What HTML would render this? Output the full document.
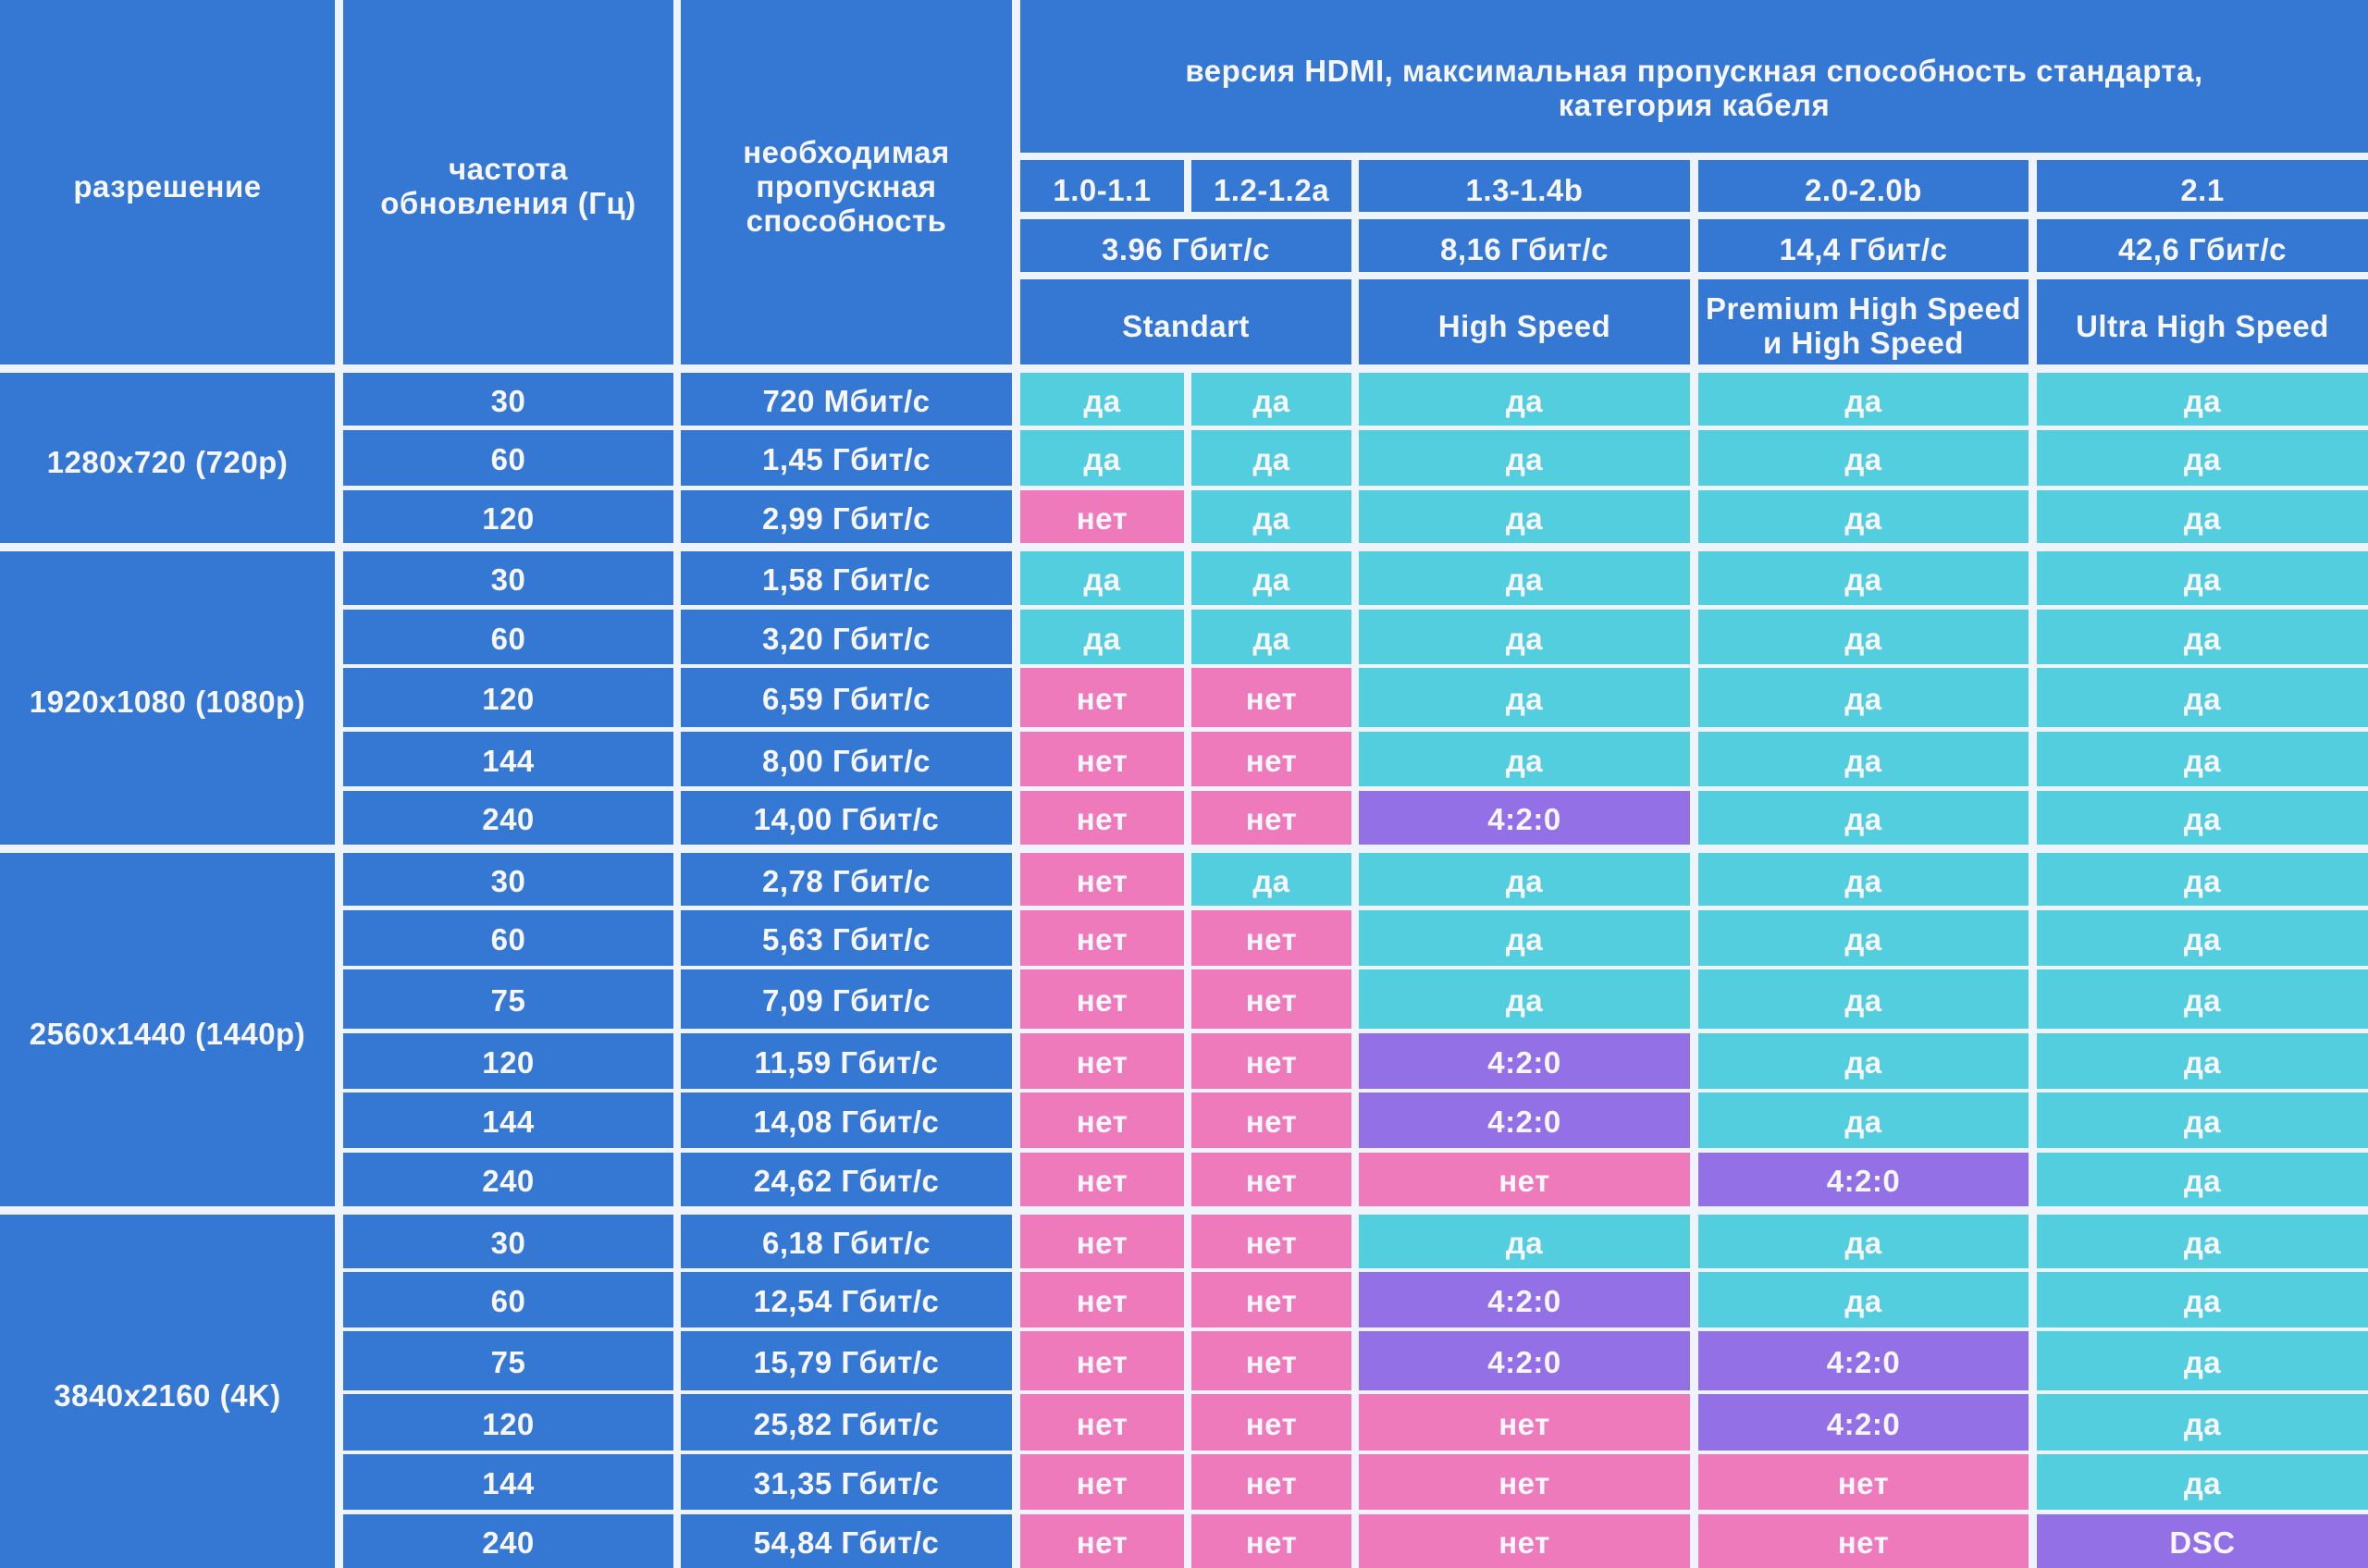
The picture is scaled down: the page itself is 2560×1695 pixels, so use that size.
<!DOCTYPE html>
<html><head><meta charset="utf-8"><style>
body{margin:0;width:2560px;height:1695px;background:#eef3fc;position:relative;overflow:hidden;font-family:"Liberation Sans","DejaVu Sans",sans-serif;}
div{position:absolute;display:flex;align-items:center;justify-content:center;text-align:center;color:#f6f6fb;font-weight:bold;font-size:33px;line-height:37px;box-sizing:border-box;padding-top:3px;letter-spacing:0.5px;}
.h{padding-top:8px}
.b{background:#3578d4}.t{background:#52cedf}.p{background:#ee7abb}.v{background:#9470e6}
.c0{left:0;width:362px}.c1{left:371px;width:357px}.c2{left:736px;width:358px}
.c3{left:1103px;width:177px}.c4{left:1288px;width:173px}.c5{left:1469px;width:358px}
.c6{left:1836px;width:357px}.c7{left:2202px;width:358px}
.r1{top:403px;height:57px}.r2{top:465px;height:60px}.r3{top:530px;height:57px}
.r4{top:596px;height:58px}.r5{top:659px;height:59px}.r6{top:722px;height:64px}.r7{top:791px;height:59px}.r8{top:855px;height:58px}
.r9{top:922px;height:57px}.r10{top:984px;height:60px}.r11{top:1048px;height:64px}.r12{top:1117px;height:60px}.r13{top:1181px;height:60px}.r14{top:1246px;height:58px}
.r15{top:1313px;height:58px}.r16{top:1375px;height:60px}.r17{top:1439px;height:64px}.r18{top:1507px;height:61px}.r19{top:1572px;height:60px}.r20{top:1637px;height:58px}
</style></head><body>
<div class="b c0 h" style="top:0;height:394px">разрешение</div>
<div class="b c1 h" style="top:0;height:394px">частота<br>обновления (Гц)</div>
<div class="b c2 h" style="top:0;height:394px">необходимая<br>пропускная<br>способность</div>
<div class="b" style="left:1103px;width:1457px;top:0;height:165px;padding-top:24px">версия HDMI, максимальная пропускная способность стандарта,<br>категория кабеля</div>
<div class="b c3 h" style="top:173px;height:56px">1.0-1.1</div>
<div class="b c4 h" style="top:173px;height:56px">1.2-1.2a</div>
<div class="b c5 h" style="top:173px;height:56px">1.3-1.4b</div>
<div class="b c6 h" style="top:173px;height:56px">2.0-2.0b</div>
<div class="b c7 h" style="top:173px;height:56px">2.1</div>
<div class="b h" style="left:1103px;width:358px;top:237px;height:57px">3.96 Гбит/с</div>
<div class="b c5 h" style="top:237px;height:57px">8,16 Гбит/с</div>
<div class="b c6 h" style="top:237px;height:57px">14,4 Гбит/с</div>
<div class="b c7 h" style="top:237px;height:57px">42,6 Гбит/с</div>
<div class="b h" style="left:1103px;width:358px;top:302px;height:92px">Standart</div>
<div class="b c5 h" style="top:302px;height:92px">High Speed</div>
<div class="b c6 h" style="top:302px;height:92px">Premium High Speed<br>и High Speed</div>
<div class="b c7 h" style="top:302px;height:92px">Ultra High Speed</div>

<div class="b c0 h" style="top:403px;height:184px">1280x720 (720p)</div>
<div class="b c0 h" style="top:596px;height:317px">1920x1080 (1080p)</div>
<div class="b c0 h" style="top:922px;height:382px">2560x1440 (1440p)</div>
<div class="b c0 h" style="top:1313px;height:382px">3840x2160 (4K)</div>

<div class="b c1 r1">30</div><div class="b c2 r1">720 Мбит/с</div><div class="t c3 r1">да</div><div class="t c4 r1">да</div><div class="t c5 r1">да</div><div class="t c6 r1">да</div><div class="t c7 r1">да</div>
<div class="b c1 r2">60</div><div class="b c2 r2">1,45 Гбит/с</div><div class="t c3 r2">да</div><div class="t c4 r2">да</div><div class="t c5 r2">да</div><div class="t c6 r2">да</div><div class="t c7 r2">да</div>
<div class="b c1 r3">120</div><div class="b c2 r3">2,99 Гбит/с</div><div class="p c3 r3">нет</div><div class="t c4 r3">да</div><div class="t c5 r3">да</div><div class="t c6 r3">да</div><div class="t c7 r3">да</div>
<div class="b c1 r4">30</div><div class="b c2 r4">1,58 Гбит/с</div><div class="t c3 r4">да</div><div class="t c4 r4">да</div><div class="t c5 r4">да</div><div class="t c6 r4">да</div><div class="t c7 r4">да</div>
<div class="b c1 r5">60</div><div class="b c2 r5">3,20 Гбит/с</div><div class="t c3 r5">да</div><div class="t c4 r5">да</div><div class="t c5 r5">да</div><div class="t c6 r5">да</div><div class="t c7 r5">да</div>
<div class="b c1 r6">120</div><div class="b c2 r6">6,59 Гбит/с</div><div class="p c3 r6">нет</div><div class="p c4 r6">нет</div><div class="t c5 r6">да</div><div class="t c6 r6">да</div><div class="t c7 r6">да</div>
<div class="b c1 r7">144</div><div class="b c2 r7">8,00 Гбит/с</div><div class="p c3 r7">нет</div><div class="p c4 r7">нет</div><div class="t c5 r7">да</div><div class="t c6 r7">да</div><div class="t c7 r7">да</div>
<div class="b c1 r8">240</div><div class="b c2 r8">14,00 Гбит/с</div><div class="p c3 r8">нет</div><div class="p c4 r8">нет</div><div class="v c5 r8">4:2:0</div><div class="t c6 r8">да</div><div class="t c7 r8">да</div>
<div class="b c1 r9">30</div><div class="b c2 r9">2,78 Гбит/с</div><div class="p c3 r9">нет</div><div class="t c4 r9">да</div><div class="t c5 r9">да</div><div class="t c6 r9">да</div><div class="t c7 r9">да</div>
<div class="b c1 r10">60</div><div class="b c2 r10">5,63 Гбит/с</div><div class="p c3 r10">нет</div><div class="p c4 r10">нет</div><div class="t c5 r10">да</div><div class="t c6 r10">да</div><div class="t c7 r10">да</div>
<div class="b c1 r11">75</div><div class="b c2 r11">7,09 Гбит/с</div><div class="p c3 r11">нет</div><div class="p c4 r11">нет</div><div class="t c5 r11">да</div><div class="t c6 r11">да</div><div class="t c7 r11">да</div>
<div class="b c1 r12">120</div><div class="b c2 r12">11,59 Гбит/с</div><div class="p c3 r12">нет</div><div class="p c4 r12">нет</div><div class="v c5 r12">4:2:0</div><div class="t c6 r12">да</div><div class="t c7 r12">да</div>
<div class="b c1 r13">144</div><div class="b c2 r13">14,08 Гбит/с</div><div class="p c3 r13">нет</div><div class="p c4 r13">нет</div><div class="v c5 r13">4:2:0</div><div class="t c6 r13">да</div><div class="t c7 r13">да</div>
<div class="b c1 r14">240</div><div class="b c2 r14">24,62 Гбит/с</div><div class="p c3 r14">нет</div><div class="p c4 r14">нет</div><div class="p c5 r14">нет</div><div class="v c6 r14">4:2:0</div><div class="t c7 r14">да</div>
<div class="b c1 r15">30</div><div class="b c2 r15">6,18 Гбит/с</div><div class="p c3 r15">нет</div><div class="p c4 r15">нет</div><div class="t c5 r15">да</div><div class="t c6 r15">да</div><div class="t c7 r15">да</div>
<div class="b c1 r16">60</div><div class="b c2 r16">12,54 Гбит/с</div><div class="p c3 r16">нет</div><div class="p c4 r16">нет</div><div class="v c5 r16">4:2:0</div><div class="t c6 r16">да</div><div class="t c7 r16">да</div>
<div class="b c1 r17">75</div><div class="b c2 r17">15,79 Гбит/с</div><div class="p c3 r17">нет</div><div class="p c4 r17">нет</div><div class="v c5 r17">4:2:0</div><div class="v c6 r17">4:2:0</div><div class="t c7 r17">да</div>
<div class="b c1 r18">120</div><div class="b c2 r18">25,82 Гбит/с</div><div class="p c3 r18">нет</div><div class="p c4 r18">нет</div><div class="p c5 r18">нет</div><div class="v c6 r18">4:2:0</div><div class="t c7 r18">да</div>
<div class="b c1 r19">144</div><div class="b c2 r19">31,35 Гбит/с</div><div class="p c3 r19">нет</div><div class="p c4 r19">нет</div><div class="p c5 r19">нет</div><div class="p c6 r19">нет</div><div class="t c7 r19">да</div>
<div class="b c1 r20">240</div><div class="b c2 r20">54,84 Гбит/с</div><div class="p c3 r20">нет</div><div class="p c4 r20">нет</div><div class="p c5 r20">нет</div><div class="p c6 r20">нет</div><div class="v c7 r20">DSC</div>
</body></html>
